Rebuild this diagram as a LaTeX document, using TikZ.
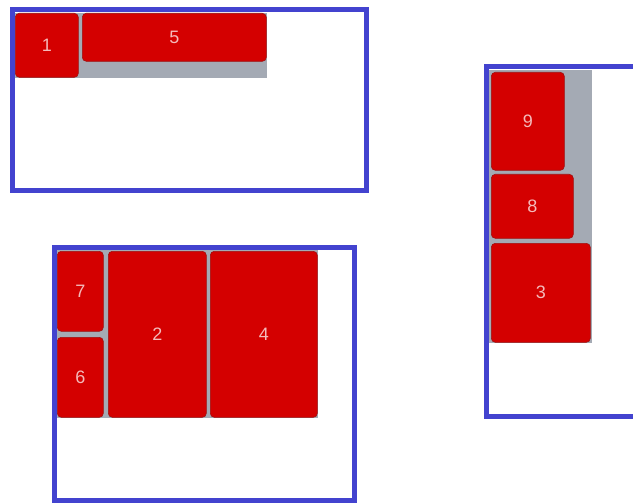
\documentclass[tikz,border=0pt]{standalone}
\usepackage{fontspec}
\setmainfont{Liberation Sans}
\definecolor{frameblue}{HTML}{4343CF}
\definecolor{itemred}{HTML}{D40000}
\definecolor{itemedge}{HTML}{A01010}
\definecolor{trackgray}{HTML}{A4AAB4}
\definecolor{labelpink}{HTML}{F4BABA}
\tikzset{
  frame/.style={draw=frameblue, line width=5pt, fill=white},
  track/.style={fill=trackgray},
  item/.style={draw=itemedge, line width=0.6pt, fill=itemred, rounded corners=4pt,
    anchor=north west, inner sep=0pt, text=labelpink, font=\fontsize{18}{18}\selectfont}
}
\begin{document}
\begin{tikzpicture}[x=1pt,y=-1pt]
\useasboundingbox (0,0) rectangle (633,503);
\clip (0,0) rectangle (633,503);
% container A
\draw[frame] (12,9.5) rectangle (366,191);
\fill[track] (15,13) rectangle (267,78);
\node[item, minimum width=63pt, minimum height=64pt] (n1) at (15,13) {1};
\node[item, minimum width=184pt, minimum height=48pt] (n5) at (82,13) {5};
% container B
\draw[frame] (54,247) rectangle (354,500);
\fill[track] (57,250) rectangle (318,418);
\node[item, minimum width=46pt, minimum height=80pt] (n7) at (57,251) {7};
\node[item, minimum width=46pt, minimum height=80pt] (n6) at (57,337) {6};
\node[item, minimum width=98pt, minimum height=166pt] (n2) at (108,251) {2};
\node[item, minimum width=107pt, minimum height=166pt] (n4) at (210,251) {4};
% container C
\draw[frame] (486,67) rectangle (660,416);
\fill[track] (489,70) rectangle (592,343);
\node[item, minimum width=73pt, minimum height=98pt] (n9) at (491,72) {9};
\node[item, minimum width=82pt, minimum height=64pt] (n8) at (491,174) {8};
\node[item, minimum width=99pt, minimum height=99pt] (n3) at (491,243) {3};
\end{tikzpicture}
\end{document}
